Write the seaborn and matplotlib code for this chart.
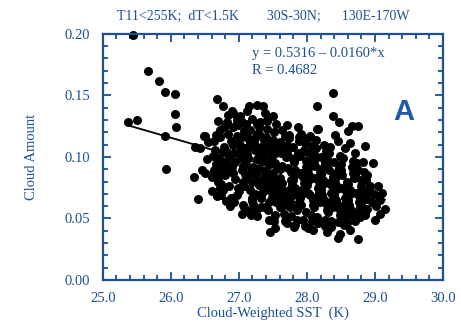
import numpy as np
import pandas as pd
import seaborn as sns
import matplotlib.pyplot as plt
from matplotlib.ticker import MultipleLocator

# sparse points around the edge of the cloud (SST K, cloud amount)
pts_edge = [(25.44, 0.199), (25.66, 0.170), (25.82, 0.162), (25.91, 0.153), (26.06, 0.151),
            (26.06, 0.135), (26.07, 0.124), (25.37, 0.128), (25.50, 0.130), (25.91, 0.117),
            (26.68, 0.147), (26.69, 0.129), (26.49, 0.117), (25.93, 0.090), (26.34, 0.084),
            (26.40, 0.066), (26.46, 0.089), (26.50, 0.087), (26.59, 0.085), (26.53, 0.098),
            (26.35, 0.108), (26.43, 0.107), (26.50, 0.117), (26.54, 0.112), (26.77, 0.141),
            (26.90, 0.137), (26.91, 0.136), (27.12, 0.137), (27.15, 0.141), (27.26, 0.142),
            (27.36, 0.141), (27.50, 0.133), (26.97, 0.130), (27.05, 0.128), (27.26, 0.127),
            (27.41, 0.130), (27.70, 0.126), (27.87, 0.124), (28.15, 0.141), (28.15, 0.123),
            (26.72, 0.122), (26.91, 0.124), (28.01, 0.115), (28.38, 0.152), (28.38, 0.133),
            (28.47, 0.128), (28.66, 0.125), (28.75, 0.125), (28.60, 0.121), (28.16, 0.123),
            (28.85, 0.109), (28.97, 0.095), (28.88, 0.085), (28.93, 0.076), (29.04, 0.076),
            (29.07, 0.065), (29.15, 0.058), (29.07, 0.054), (29.00, 0.049), (28.09, 0.041),
            (28.29, 0.039), (28.46, 0.034), (28.49, 0.037), (28.63, 0.041), (28.75, 0.033),
            (28.85, 0.054), (28.78, 0.051), (28.59, 0.046), (27.46, 0.039), (27.53, 0.042),
            (27.82, 0.045), (27.44, 0.049), (27.18, 0.053), (27.05, 0.054), (26.81, 0.064),
            (26.93, 0.063), (27.06, 0.061), (27.26, 0.058), (27.38, 0.059), (27.53, 0.053),
            (27.60, 0.059), (27.75, 0.063), (27.85, 0.059), (26.72, 0.075), (26.77, 0.073),
            (26.60, 0.084), (26.69, 0.087), (26.97, 0.069), (27.19, 0.064)]

# dense core, 26.6-27.5 K
pts_core_a = [(26.62, 0.101), (26.66, 0.094), (26.64, 0.113), (26.69, 0.080), (26.61, 0.072),
              (26.67, 0.118), (26.63, 0.089), (26.68, 0.068), (26.65, 0.106), (26.70, 0.099),
              (26.72, 0.116), (26.75, 0.097), (26.71, 0.088), (26.78, 0.108), (26.74, 0.078),
              (26.77, 0.092), (26.79, 0.125), (26.73, 0.069), (26.76, 0.104), (26.70, 0.083),
              (26.84, 0.119), (26.81, 0.095), (26.87, 0.089), (26.83, 0.104), (26.86, 0.076),
              (26.88, 0.067), (26.82, 0.128), (26.89, 0.113), (26.85, 0.100), (26.80, 0.085),
              (26.87, 0.060), (26.84, 0.134), (26.93, 0.103), (26.90, 0.092), (26.97, 0.117),
              (26.95, 0.082), (26.92, 0.110), (26.99, 0.075), (26.94, 0.096), (26.98, 0.126),
              (26.91, 0.087), (26.96, 0.114), (26.92, 0.067), (26.97, 0.130), (27.02, 0.105),
              (27.06, 0.093), (27.04, 0.116), (27.09, 0.086), (27.01, 0.110), (27.07, 0.076),
              (27.03, 0.099), (27.08, 0.121), (27.05, 0.089), (27.00, 0.072), (27.09, 0.107),
              (27.02, 0.133), (27.06, 0.080), (27.08, 0.059), (27.13, 0.108), (27.10, 0.097),
              (27.17, 0.122), (27.15, 0.086), (27.12, 0.102), (27.19, 0.080), (27.14, 0.115),
              (27.18, 0.091), (27.11, 0.127), (27.16, 0.073), (27.13, 0.099), (27.19, 0.067),
              (27.11, 0.083), (27.17, 0.112), (27.15, 0.056), (27.24, 0.106), (27.21, 0.092),
              (27.27, 0.119), (27.25, 0.085), (27.22, 0.111), (27.29, 0.077), (27.26, 0.098),
              (27.20, 0.131), (27.28, 0.089), (27.23, 0.070), (27.27, 0.105), (27.21, 0.062),
              (27.25, 0.081), (27.29, 0.124), (27.23, 0.115), (27.26, 0.052), (27.34, 0.100),
              (27.30, 0.091), (27.37, 0.114), (27.35, 0.081), (27.32, 0.108), (27.39, 0.073),
              (27.36, 0.097), (27.31, 0.128), (27.38, 0.085), (27.33, 0.067), (27.37, 0.104),
              (27.30, 0.119), (27.35, 0.077), (27.39, 0.110), (27.32, 0.059), (27.38, 0.136),
              (27.34, 0.071), (27.43, 0.097), (27.40, 0.089), (27.47, 0.111), (27.45, 0.079),
              (27.42, 0.105), (27.49, 0.071), (27.46, 0.094), (27.41, 0.123), (27.48, 0.083),
              (27.44, 0.063), (27.47, 0.100), (27.40, 0.116), (27.45, 0.075), (27.49, 0.109),
              (27.43, 0.057), (27.48, 0.067), (27.42, 0.129)]

# dense core, 27.5-28.3 K
pts_core_b = [(27.53, 0.095), (27.50, 0.087), (27.57, 0.109), (27.55, 0.077), (27.52, 0.102),
              (27.59, 0.069), (27.56, 0.092), (27.51, 0.120), (27.58, 0.081), (27.54, 0.063),
              (27.50, 0.114), (27.57, 0.073), (27.53, 0.105), (27.59, 0.065), (27.55, 0.127),
              (27.52, 0.048), (27.64, 0.093), (27.60, 0.083), (27.67, 0.107), (27.62, 0.075),
              (27.69, 0.100), (27.65, 0.067), (27.61, 0.090), (27.68, 0.117), (27.63, 0.079),
              (27.66, 0.061), (27.60, 0.112), (27.69, 0.071), (27.62, 0.103), (27.67, 0.054),
              (27.64, 0.122), (27.68, 0.048), (27.72, 0.091), (27.76, 0.081), (27.70, 0.105),
              (27.74, 0.073), (27.79, 0.098), (27.71, 0.065), (27.77, 0.088), (27.73, 0.115),
              (27.78, 0.077), (27.75, 0.059), (27.70, 0.110), (27.79, 0.069), (27.72, 0.101),
              (27.76, 0.052), (27.74, 0.118), (27.71, 0.046), (27.83, 0.089), (27.80, 0.081),
              (27.87, 0.103), (27.85, 0.071), (27.81, 0.096), (27.89, 0.063), (27.84, 0.086),
              (27.88, 0.113), (27.82, 0.075), (27.86, 0.057), (27.80, 0.108), (27.88, 0.069),
              (27.83, 0.099), (27.85, 0.049), (27.89, 0.116), (27.81, 0.043), (27.92, 0.087),
              (27.96, 0.079), (27.90, 0.101), (27.95, 0.071), (27.98, 0.092), (27.91, 0.061),
              (27.94, 0.084), (27.97, 0.111), (27.93, 0.073), (27.99, 0.055), (27.96, 0.106),
              (27.90, 0.067), (27.98, 0.097), (27.94, 0.049), (27.92, 0.119), (27.97, 0.044),
              (28.03, 0.085), (28.00, 0.077), (28.07, 0.099), (28.05, 0.069), (28.01, 0.090),
              (28.09, 0.061), (28.04, 0.082), (28.08, 0.109), (28.02, 0.071), (28.06, 0.053),
              (28.00, 0.104), (28.09, 0.065), (28.03, 0.095), (28.07, 0.048), (28.05, 0.117),
              (28.01, 0.042), (28.12, 0.083), (28.16, 0.075), (28.10, 0.097), (28.14, 0.067),
              (28.19, 0.088), (28.11, 0.059), (28.17, 0.080), (28.13, 0.107), (28.18, 0.071),
              (28.15, 0.051), (28.10, 0.102), (28.19, 0.063), (28.12, 0.093), (28.16, 0.046),
              (28.14, 0.114), (28.23, 0.081), (28.20, 0.073), (28.27, 0.095), (28.25, 0.065),
              (28.21, 0.086), (28.29, 0.057), (28.24, 0.078), (28.28, 0.105), (28.22, 0.069),
              (28.26, 0.049), (28.20, 0.100), (28.29, 0.061), (28.23, 0.091), (28.27, 0.044),
              (28.25, 0.110)]

# dense core, 28.3-29.1 K
pts_core_c = [(28.32, 0.079), (28.36, 0.071), (28.30, 0.093), (28.34, 0.063), (28.39, 0.084),
              (28.31, 0.055), (28.37, 0.076), (28.33, 0.103), (28.38, 0.067), (28.35, 0.048),
              (28.30, 0.098), (28.39, 0.059), (28.32, 0.089), (28.36, 0.043), (28.34, 0.108),
              (28.43, 0.077), (28.40, 0.069), (28.47, 0.091), (28.45, 0.061), (28.41, 0.082),
              (28.49, 0.053), (28.44, 0.074), (28.48, 0.101), (28.42, 0.065), (28.46, 0.047),
              (28.40, 0.096), (28.49, 0.057), (28.43, 0.087), (28.45, 0.113), (28.41, 0.118),
              (28.52, 0.075), (28.56, 0.067), (28.50, 0.089), (28.54, 0.059), (28.59, 0.080),
              (28.51, 0.051), (28.57, 0.072), (28.53, 0.099), (28.58, 0.063), (28.55, 0.045),
              (28.50, 0.094), (28.59, 0.055), (28.52, 0.085), (28.56, 0.107), (28.63, 0.073),
              (28.60, 0.065), (28.67, 0.087), (28.65, 0.057), (28.61, 0.078), (28.69, 0.050),
              (28.64, 0.070), (28.68, 0.097), (28.62, 0.061), (28.66, 0.092), (28.60, 0.053),
              (28.69, 0.083), (28.64, 0.111), (28.72, 0.071), (28.76, 0.063), (28.70, 0.085),
              (28.74, 0.055), (28.79, 0.076), (28.71, 0.048), (28.77, 0.068), (28.73, 0.095),
              (28.78, 0.059), (28.75, 0.089), (28.70, 0.103), (28.79, 0.081), (28.83, 0.069),
              (28.80, 0.062), (28.87, 0.081), (28.85, 0.053), (28.81, 0.074), (28.89, 0.066),
              (28.84, 0.088), (28.88, 0.058), (28.82, 0.096), (28.92, 0.072), (28.96, 0.063),
              (28.99, 0.070), (29.02, 0.060), (29.06, 0.068), (29.11, 0.071)]

# fit printed on the chart
intercept = 0.5316
slope = -0.0160

blue = '#1d4f94'
df = pd.DataFrame(pts_edge + pts_core_a + pts_core_b + pts_core_c, columns=['sst', 'cloud'])

sns.set_style('ticks')
plt.rcParams['font.family'] = ['Liberation Serif', 'DejaVu Serif']

fig = plt.figure(figsize=(4.61, 3.29), dpi=100)
ax = fig.add_axes([0.223, 0.149, 0.738, 0.748])

sns.scatterplot(data=df, x='sst', y='cloud', color='black', s=42, linewidth=0, ax=ax, clip_on=False)

xl = np.array([df['sst'].min(), df['sst'].max()])
sns.lineplot(x=xl, y=intercept + slope * xl, color='black', linewidth=1.3, ax=ax)

ax.set_xlim(25, 30)
ax.set_ylim(0, 0.20)
ax.xaxis.set_major_locator(MultipleLocator(1.0))
ax.xaxis.set_minor_locator(MultipleLocator(0.2))
ax.yaxis.set_major_locator(MultipleLocator(0.05))
ax.yaxis.set_minor_locator(MultipleLocator(0.01))
ax.xaxis.set_major_formatter(lambda v, p: f'{v:.1f}')
ax.yaxis.set_major_formatter(lambda v, p: f'{v:.2f}')

for s in ax.spines.values():
    s.set_color(blue)
    s.set_linewidth(1.6)
ax.tick_params(which='both', direction='in', top=True, right=True, color=blue,
               labelcolor=blue, labelsize=10.5, width=1.3)
ax.tick_params(which='major', length=6, pad=9)
ax.tick_params(which='minor', length=3.5)

ax.set_xlabel('Cloud-Weighted SST  (K)', color=blue, fontsize=10.5, labelpad=1)
ax.set_ylabel('Cloud Amount', color=blue, fontsize=10.5, labelpad=19)

ax.text(0.44, 0.905, 'y = 0.5316 \u2013 0.0160*x', transform=ax.transAxes, color=blue, fontsize=10.5)
ax.text(0.44, 0.835, 'R = 0.4682', transform=ax.transAxes, color=blue, fontsize=10.5)
ax.text(0.885, 0.683, 'A', transform=ax.transAxes, color='#1f5aa8', fontsize=21,
        fontweight='bold', family='Liberation Sans', ha='center', va='center')
fig.text(0.253, 0.94, 'T11<255K;  dT<1.5K        30S-30N;      130E-170W', color=blue, fontsize=10)

fig.savefig('out.png', dpi=100)
